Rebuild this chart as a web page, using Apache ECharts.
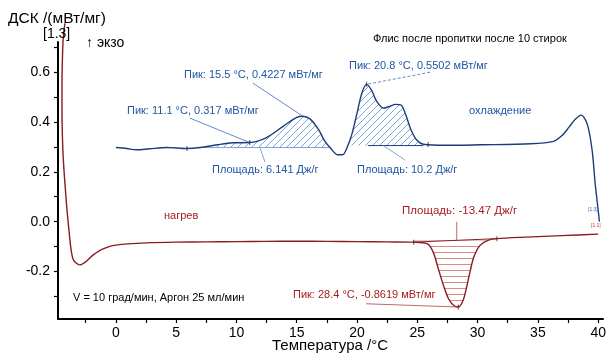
<!DOCTYPE html>
<html><head><meta charset="utf-8">
<script src="https://cdn.jsdelivr.net/npm/echarts@6/dist/echarts.min.js"></script>
<style>html,body{margin:0;padding:0;background:#fff}#c{width:609px;height:356px}</style>
</head><body><div id="c"></div>
<script>
// Heating curve (displayed values)
const heatT = [-4.23,-4.36,-4.43,-4.47,-4.47,-4.44,-4.36,-4.22,-4.06,-3.88,-3.72,-3.50,-3.00,-2.50,-1.90,-1.20,-0.50,0,1,2.5,5,7.5,10,12.5,15,17.5,20,22.5,24.7,25.8,26.3,26.75,27.2,27.6,28.0,28.4,28.8,29.1,29.4,29.7,30.2,30.9,31.6,34,37,40];
const heatY = [0.795,0.74,0.66,0.55,0.45,0.35,0.25,0.15,0.05,-0.04,-0.11,-0.155,-0.173,-0.161,-0.134,-0.112,-0.099,-0.094,-0.089,-0.085,-0.082,-0.081,-0.080,-0.079,-0.078,-0.079,-0.080,-0.081,-0.082,-0.088,-0.12,-0.19,-0.26,-0.31,-0.335,-0.342,-0.315,-0.26,-0.195,-0.14,-0.095,-0.074,-0.068,-0.062,-0.056,-0.05];
// Cooling curve
const coolT = [0,0.9,1.7,2.8,4.2,5.9,7.0,8.4,9.7,11.1,12.5,13.9,15.0,15.5,16.1,16.8,17.3,17.8,18.4,18.8,19.2,19.6,20.0,20.4,20.8,21.2,21.6,22.2,22.7,23.2,23.7,24.1,24.5,24.95,25.5,27.4,30.2,34.4,36.3,37.0,37.6,38.1,38.6,39.1,39.5,39.75,40.03,40.1];
const coolY = [0.297,0.293,0.288,0.292,0.297,0.293,0.297,0.308,0.316,0.317,0.337,0.383,0.418,0.4227,0.412,0.37,0.325,0.295,0.268,0.268,0.3,0.355,0.435,0.515,0.5502,0.527,0.485,0.455,0.462,0.47,0.465,0.42,0.365,0.327,0.31,0.306,0.308,0.312,0.322,0.345,0.38,0.41,0.427,0.39,0.286,0.153,0.033,0.0];
// Integration areas
const heatAreaRange = [24.7, 31.6];
const heatBaseline = [-0.082, -0.068];
const coolArea1Range = [7.0, 17.8];
const coolArea1Base = 0.297;
const coolArea2Range = [19.2, 25.5];
const coolArea2Base = 0.305;
// Peaks
const peakHeat = [28.4, -0.342];
const peakCool1 = [15.5, 0.4227];
const peakCool2 = [20.8, 0.5502];
const peakCool0 = [11.1, 0.317];
// Axis ticks
const xTicks = [-2.5,0,2.5,5,7.5,10,12.5,15,17.5,20,22.5,25,27.5,30,32.5,35,37.5,40];
const xLabels = [0,5,10,15,20,25,30,35,40];
const yTicks = [-0.3,-0.2,-0.1,0,0.1,0.2,0.3,0.4,0.5,0.6,0.7];
const yLabels = [-0.2,0,0.2,0.4,0.6];

const pairs = (T, Y) => T.map((t, i) => [t, Y[i]]);
const sub = (T, Y, r) => pairs(T, Y).filter(p => p[0] >= r[0] - 1e-9 && p[0] <= r[1] + 1e-9);

function hatch(color, kind) {
  const c = document.createElement('canvas');
  if (kind === 'diag') {
    c.width = 7; c.height = 7;
    const g = c.getContext('2d');
    g.strokeStyle = color; g.lineWidth = 1;
    g.beginPath();
    g.moveTo(0, 7); g.lineTo(7, 0);
    g.moveTo(-1, 1); g.lineTo(1, -1);
    g.moveTo(6, 8); g.lineTo(8, 6);
    g.stroke();
  } else {
    c.width = 6; c.height = 6;
    const g = c.getContext('2d');
    g.fillStyle = color;
    g.fillRect(0, 0, 6, 1);
  }
  return c;
}

const NAVY = '#1c3c7c', BLUE_T = '#1f56a5', HATCH_B = '#7aa5d6';
const RED = '#8a1b22', RED_T = '#a81c20', HATCH_R = '#d48c8c';
const FONT = '"Liberation Sans", Arial, sans-serif';

const chart = echarts.init(document.getElementById('c'), null, {renderer: 'canvas'});

const leader = (a, b, color, dashed) => ({
  type: 'line', data: [a, b], symbol: 'none', silent: true, z: 4, clip: false,
  lineStyle: {color: color, width: 0.8, type: dashed ? [3, 2] : 'solid'}
});

const txt = (text, x, y, color, size, extra) => Object.assign({
  type: 'text', x: x, y: y, silent: true, z: 10,
  style: Object.assign({text: text, fill: color, font: size + 'px ' + FONT,
    align: 'left', verticalAlign: 'middle', textAlign: 'left', textVerticalAlign: 'middle'}, extra || {})
});

const option = {
  animation: false,
  backgroundColor: '#fff',
  grid: {left: 58, right: 6, top: 42, bottom: 37, containLabel: false},
  xAxis: {
    type: 'value', min: -4.8, max: 40.4,
    axisLine: {show: true, onZero: false, lineStyle: {color: '#000', width: 2}},
    axisTick: {show: true, customValues: xTicks, length: 4, lineStyle: {color: '#000', width: 1.2}},
    axisLabel: {customValues: xLabels, fontSize: 14, color: '#000', margin: 7, fontFamily: FONT},
    splitLine: {show: false}
  },
  yAxis: {
    type: 'value', min: -0.39, max: 0.72,
    axisLine: {show: true, onZero: false, lineStyle: {color: '#000', width: 2}},
    axisTick: {show: true, customValues: yTicks, length: 4, lineStyle: {color: '#000', width: 1.2}},
    axisLabel: {customValues: yLabels, fontSize: 14, color: '#000', margin: 8, fontFamily: FONT,
      formatter: v => Number(v).toFixed(1)},
    splitLine: {show: false}
  },
  series: [
    // hatched areas
    {type: 'line', data: sub(heatT, heatY, heatAreaRange), smooth: 0.3, symbol: 'none', z: 1,
      lineStyle: {width: 0}, areaStyle: {origin: (heatBaseline[0] + heatBaseline[1]) / 2, opacity: 1,
        color: {image: hatch(HATCH_R, 'horiz'), repeat: 'repeat'}}},
    {type: 'line', data: sub(coolT, coolY, coolArea1Range), smooth: 0.3, symbol: 'none', z: 1,
      lineStyle: {width: 0}, areaStyle: {origin: coolArea1Base, opacity: 1,
        color: {image: hatch(HATCH_B, 'diag'), repeat: 'repeat'}}},
    {type: 'line', data: sub(coolT, coolY, coolArea2Range), smooth: 0.3, symbol: 'none', z: 1,
      lineStyle: {width: 0}, areaStyle: {origin: coolArea2Base, opacity: 1,
        color: {image: hatch(HATCH_B, 'diag'), repeat: 'repeat'}}},
    // baselines
    {type: 'line', data: [[heatAreaRange[0], heatBaseline[0]], [heatAreaRange[1], heatBaseline[1]]],
      symbol: 'none', z: 2, lineStyle: {color: RED, width: 1}},
    {type: 'line', data: [[coolArea1Range[0], coolArea1Base], [coolArea1Range[1], coolArea1Base]],
      symbol: 'none', z: 2, lineStyle: {color: HATCH_B, width: 1}},
    {type: 'line', data: [[20.9, coolArea2Base], [coolArea2Range[1], coolArea2Base]],
      symbol: 'none', z: 2, lineStyle: {color: NAVY, width: 1}},
    // main curves
    {type: 'line', name: 'нагрев', data: pairs(heatT, heatY), smooth: 0.3, symbol: 'none', clip: false, z: 3,
      lineStyle: {color: RED, width: 1.4}},
    {type: 'line', name: 'охлаждение', data: pairs(coolT, coolY), smooth: 0.3, symbol: 'none', clip: false, z: 3,
      lineStyle: {color: NAVY, width: 1.4}},
    // limit markers
    {type: 'scatter', data: [[heatAreaRange[0], heatBaseline[0]], [heatAreaRange[1], heatBaseline[1]], peakHeat],
      symbol: 'rect', symbolSize: [1, 5], itemStyle: {color: '#222'}, z: 5, silent: true},
    {type: 'scatter', data: [[5.9, 0.293], [25.9, 0.309], peakCool0, peakCool2],
      symbol: 'rect', symbolSize: [1, 5], itemStyle: {color: '#222'}, z: 5, silent: true},
    // leader lines
    leader([11.37, 0.555], peakCool1, '#3d6fae', false),
    leader([26.06, 0.599], peakCool2, '#3d6fae', true),
    leader([6.14, 0.415], peakCool0, '#3d6fae', false),
    leader([12.37, 0.239], [11.95, 0.296], '#5f8fc6', false),
    leader([23.98, 0.247], [22.16, 0.306], '#5f8fc6', false),
    leader([28.27, -0.001], [28.27, -0.075], '#b04040', false),
    leader([20.75, -0.329], peakHeat, '#b04040', false)
  ],
  graphic: [
    txt('ДСК /(мВт/мг)', 8, 19, '#000', 15.5),
    txt('[1.3]', 43, 34, '#000', 14),
    txt('↑ экзо', 86, 43, '#000', 14),
    txt('Флис после пропитки после 10 стирок', 373, 39, '#000', 11),
    txt('Пик: 20.8 °C, 0.5502 мВт/мг', 349, 66, BLUE_T, 11),
    txt('Пик: 15.5 °C, 0.4227 мВт/мг', 184, 75, BLUE_T, 11),
    txt('Пик: 11.1 °C, 0.317 мВт/мг', 127, 111, BLUE_T, 11),
    txt('охлаждение', 469, 111, BLUE_T, 11),
    txt('Площадь: 6.141 Дж/г', 212, 170, BLUE_T, 11),
    txt('Площадь: 10.2 Дж/г', 357, 170, BLUE_T, 11),
    txt('Площадь: -13.47 Дж/г', 402, 211, RED_T, 11.5),
    txt('нагрев', 164, 216, RED_T, 11),
    txt('Пик: 28.4 °C, -0.8619 мВт/мг', 293, 295, RED_T, 11),
    txt('V = 10 град/мин, Аргон 25 мл/мин', 73, 298, '#000', 11),
    txt('[1.3]', 588, 210, '#3d6fae', 5),
    txt('[1.1]', 591, 226, '#c04040', 5),
    txt('Температура /°C', 330, 346, '#000', 15, {align: 'center', textAlign: 'center'})
  ]
};
chart.setOption(option);
</script>
</body></html>
